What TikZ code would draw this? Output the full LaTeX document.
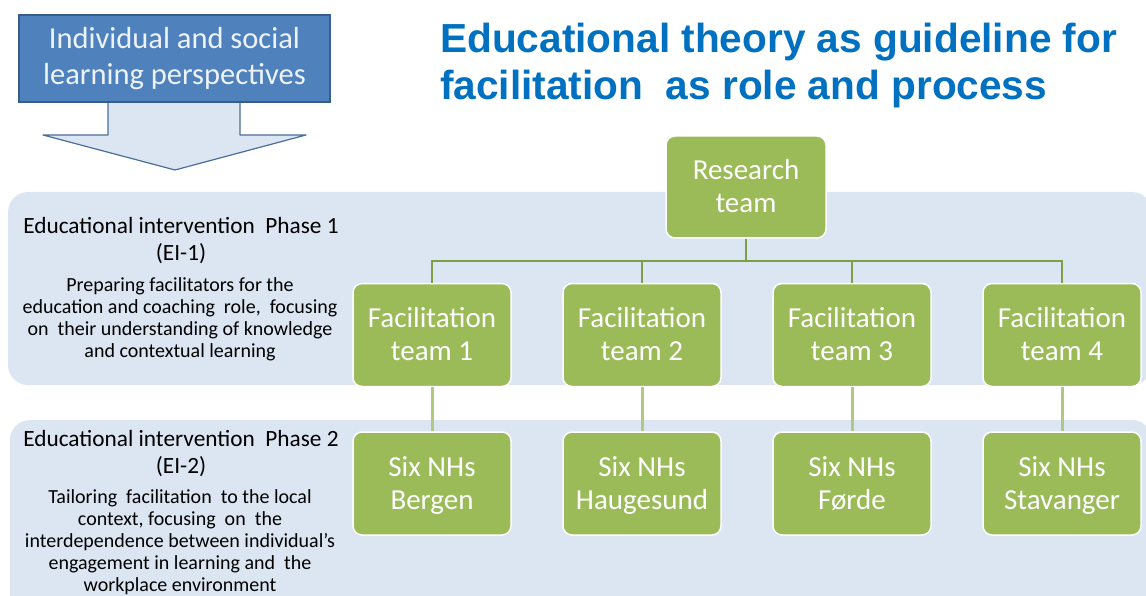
\documentclass[tikz,border=0pt]{standalone}
\usepackage{fontspec}
\setmainfont{Carlito}
\newfontfamily\titlefont{Liberation Sans}
\newcommand{\gtop}{\rule{0pt}{28pt}}
\definecolor{boxgreen}{HTML}{9BBB59}
\definecolor{conngreen}{HTML}{7F9F46}
\definecolor{lightgreen}{HTML}{AFC97F}
\definecolor{bandblue}{HTML}{DCE6F2}
\definecolor{boxblue}{HTML}{4F81BD}
\definecolor{boxblueborder}{HTML}{385D8A}
\definecolor{arrowborder}{HTML}{4A6E9A}
\definecolor{titleblue}{HTML}{0070C0}
\definecolor{persptext}{HTML}{EEF3FA}
\tikzset{
  greenbox/.style={draw=white, line width=1.5pt, fill=boxgreen, rounded corners=9pt,
    minimum width=158pt, minimum height=103pt, text=white, align=center,
    font=\fontsize{29}{33}\selectfont, inner sep=0pt,
    execute at end node={\rule[-10pt]{0pt}{10pt}}},
  band/.style={fill=bandblue, rounded corners=20pt, inner sep=0pt},
  conn/.style={draw=conngreen, line width=2.5pt},
  conntwo/.style={draw=lightgreen, line width=3pt},
  headtext/.style={align=center, text=black, font=\fontsize{23.3}{27}\selectfont, inner sep=0pt},
  bodytext/.style={align=center, text=black, font=\fontsize{20}{22}\selectfont, inner sep=0pt},
  titletext/.style={anchor=base west, inner sep=0pt, text=titleblue,
    font=\titlefont\bfseries\fontsize{40.6}{46}\selectfont}
}
\begin{document}
\begin{tikzpicture}[x=1pt,y=-1pt]
\useasboundingbox (0,0) rectangle (1146,596);
\clip (0,0) rectangle (1146,596);
% bands
\node[band, minimum width=1144pt, minimum height=193pt] (band1) at (580,288.5) {};
\node[band, minimum width=1142pt, minimum height=220pt] (band2) at (581,530) {};
% blue box and arrow
\draw[draw=arrowborder, line width=1.2pt, fill=bandblue, line join=round]
  (108,102) -- (108,135) -- (43,135) -- (175,170) -- (306,135) -- (240,135) -- (240,102);
\node[draw=boxblueborder, line width=1.2pt, fill=boxblue, minimum width=311pt, minimum height=87pt,
  text=persptext, align=center, inner sep=0pt, font=\fontsize{30.5}{36}\selectfont]
  (persp) at (174.5,58.5) {Individual and social\\learning perspectives};
% title
\node[titletext] (title1) at (440,53) {Educational theory as guideline for};
\node[titletext] (title2) at (440,100) {facilitation\ \ as role and process};
% nodes
\node[greenbox, minimum width=160pt, minimum height=102pt] (rt) at (746,187) {\gtop Research\\team};
\node[greenbox] (f1) at (432,335) {\gtop Facilitation\\team 1};
\node[greenbox] (f2) at (642,335) {\gtop Facilitation\\team 2};
\node[greenbox] (f3) at (852,335) {\gtop Facilitation\\team 3};
\node[greenbox] (f4) at (1062,335) {\gtop Facilitation\\team 4};
\node[greenbox] (n1) at (432,483.5) {\gtop Six NHs\\Bergen};
\node[greenbox] (n2) at (642,483.5) {\gtop Six NHs\\Haugesund};
\node[greenbox] (n3) at (852,483.5) {\gtop Six NHs\\Førde};
\node[greenbox] (n4) at (1062,483.5) {\gtop Six NHs\\Stavanger};
% connectors
\coordinate (bus) at (0,261);
\foreach \i in {1,...,4}{
  \draw[conn] (rt.south) -- (rt.south |- bus) -| (f\i.north);
  \draw[conntwo] (f\i.south) -- (n\i.north);
}
% left texts
\node[headtext] (h1) at (181,240.5) {Educational intervention\ \ Phase 1\\(EI-1)};
\node[bodytext] (b1) at (180,319.5) {Preparing facilitators for the\\education and coaching\ \ role,\ \ focusing\\on\ \ their understanding of knowledge\\and contextual learning};
\node[headtext] (h2) at (181,453.5) {Educational intervention\ \ Phase 2\\(EI-2)};
\node[bodytext] (b2) at (180,542.5) {Tailoring\ \ facilitation\ \ to the local\\context, focusing\ \ on\ \ the\\interdependence between individual’s\\engagement in learning and\ \ the\\workplace environment};
\end{tikzpicture}
\end{document}
